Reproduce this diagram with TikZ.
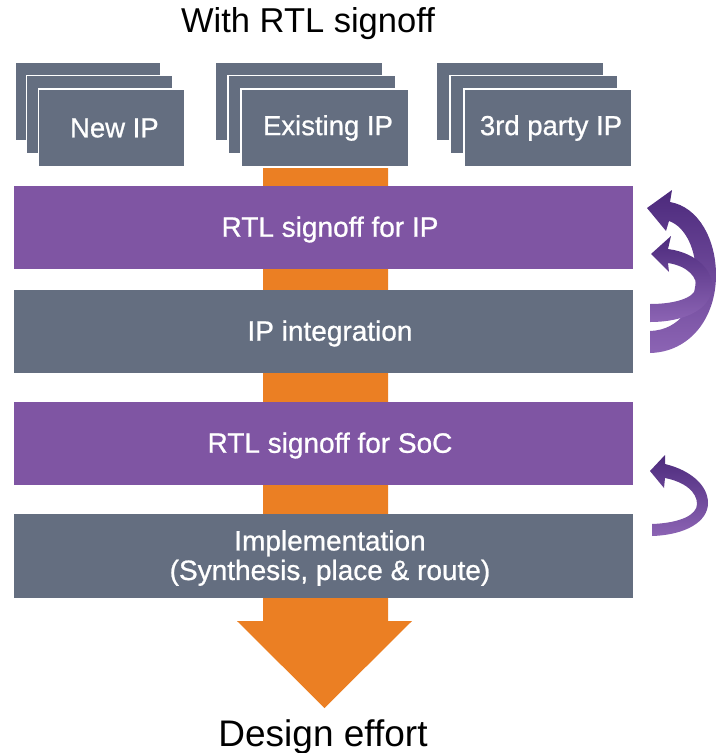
\documentclass[tikz,border=0pt]{standalone}
\usepackage{fontspec}
\setmainfont{Liberation Sans}
\newfontfamily\medfont{Liberation Sans}[FakeBold=0.8]
\definecolor{ipgray}{HTML}{646E80}
\definecolor{signpurple}{HTML}{7F55A3}
\definecolor{effortorange}{HTML}{EB7F23}
\definecolor{backdark}{HTML}{4C2A7C}
\definecolor{backlight}{HTML}{8C64B4}
\begin{document}
\begin{tikzpicture}[
  x=1pt, y=-1pt,
  ipbox/.style = {shape=rectangle, fill=ipgray, draw=white,
    line width=1.2pt, minimum height=78pt, inner sep=0pt,
    text=white, font=\medfont\fontsize{27.5}{30}\selectfont},
  band/.style = {shape=rectangle, fill=#1, minimum width=619pt,
    minimum height=83pt, inner sep=0pt},
  bandtext/.style = {text=white, align=center, yshift=-2pt,
    font=\medfont\fontsize{28}{29.5}\selectfont},
  backarrow/.style = {top color=backdark, bottom color=backlight}]
  \useasboundingbox (0,0) rectangle (716,753);

  \node[anchor=base, font=\fontsize{34.5}{38}\selectfont] (title)
    at (308,32) {With RTL signoff};

  % effort arrow behind everything
  \fill[effortorange] (263,160) -- (388,160) -- (388,621) -- (412,621)
    -- (324.5,708) -- (237,621) -- (263,621) -- cycle;

  \node[band=signpurple,
    label={[bandtext,xshift=6.5pt]center:RTL signoff for IP}]
    (rtlip) at (323.5,227.5) {};
  \node[band=ipgray,
    label={[bandtext,xshift=6.5pt]center:IP integration}]
    (integ) at (323.5,331.5) {};
  \node[band=signpurple,
    label={[bandtext,xshift=6.5pt]center:RTL signoff for SoC}]
    (rtlsoc) at (323.5,443.5) {};
  \node[band=ipgray, minimum height=84pt,
    label={[bandtext,xshift=6.5pt]center:Implementation\\(Synthesis, place \& route)}]
    (impl) at (323.5,556) {};

  % stacked IP sources
  \foreach \gx/\gw/\dx/\name/\txt in {15/146/11.7/newip/New IP,
      215/168/13/exist/Existing IP, 436/168/14/third/3rd party IP} {
    \node[ipbox, minimum width=\gw pt] at (\gx+\gw/2,101.5) {};
    \node[ipbox, minimum width=\gw pt] at (\gx+\dx+\gw/2,114.5) {};
    \node[ipbox, minimum width=\gw pt, text depth=0pt,
      label={[text=white, font=\medfont\fontsize{27.5}{30}\selectfont,
      xshift=3pt]center:\txt}] (\name)
      at (\gx+2*\dx+\gw/2,128) {};
  }

  % iteration arrows
  \path[backarrow] (670,202) .. controls (699,207) and (716,240) .. (716,275)
    .. controls (716,318) and (690,352) .. (650,353) -- (650,331)
    .. controls (680,330) and (696,305) .. (696,275)
    .. controls (696,250) and (686,227) .. (669,221)
    -- (666,231) -- (647,208) -- (672,190) -- cycle;
  \path[backarrow] (668,249) .. controls (698,253) and (714,272) .. (712,289)
    .. controls (710,309) and (685,322) .. (650,322) -- (650,304)
    .. controls (675,304) and (694,298) .. (696,288)
    .. controls (698,278) and (688,266) .. (668,263)
    -- (669,272) -- (651,254) -- (671,236) -- cycle;
  \path[backarrow] (665,464) .. controls (690,470) and (708,485) .. (708,503)
    .. controls (708,522) and (685,535) .. (652,536) -- (652,524)
    .. controls (680,523) and (697,515) .. (697,504)
    .. controls (697,492) and (685,482) .. (665,478)
    -- (664,488) -- (650,471) -- (665,455) -- cycle;

  \node[anchor=base, font=\fontsize{37}{40}\selectfont] (effort)
    at (323,746) {Design effort};
\end{tikzpicture}
\end{document}
